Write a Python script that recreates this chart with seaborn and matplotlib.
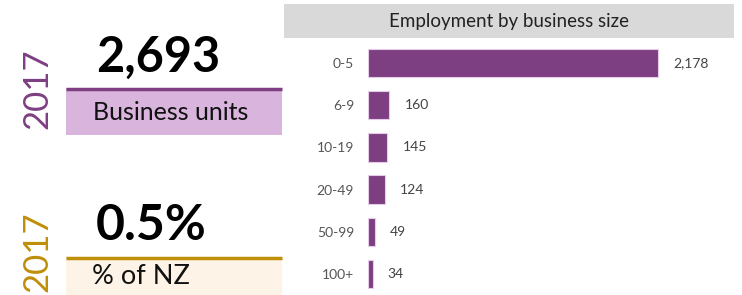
import matplotlib
matplotlib.use("Agg")
import matplotlib.pyplot as plt
import seaborn as sns
import pandas as pd
from matplotlib.patches import Rectangle

# data
sizes = ["0-5", "6-9", "10-19", "20-49", "50-99", "100+"]
employment = [2178, 160, 145, 124, 49, 34]
year = "2017"
business_units = "2,693"
pct_nz = "0.5%"
chart_title = "Employment by business size"

purple = "#7D3F82"
pink = "#D9B4DC"
gold = "#BF8F0A"
cream = "#FDF3E6"

sns.set_theme(style="white")
plt.rcParams["font.family"] = ["Lato", "DejaVu Sans"]

df = pd.DataFrame({"size": sizes, "employment": employment})

fig = plt.figure(figsize=(7.42, 2.95), dpi=100)

# overlay in pixel coordinates for the left panel and header
bg = fig.add_axes([0, 0, 1, 1])
bg.set_xlim(0, 742)
bg.set_ylim(295, 0)
bg.axis("off")

bg.add_patch(Rectangle((284, 4), 450, 34, color="#D9D9D9", lw=0))
bg.text(509, 21, chart_title, ha="center", va="center", fontsize=13.5, color="#222222")

# top block
bg.text(37, 89, year, rotation=90, ha="center", va="center", fontsize=25, color=purple)
bg.text(96, 57, business_units, ha="left", va="center", fontsize=35, fontweight="bold", color="black")
bg.add_patch(Rectangle((66, 88), 216, 47, color=pink, lw=0))
bg.plot([66, 282], [88.5, 88.5], color=purple, lw=2.5, solid_capstyle="butt")
bg.text(93, 112, "Business units", ha="left", va="center", fontsize=18, color="#111111")

# bottom block
bg.text(37, 252, year, rotation=90, ha="center", va="center", fontsize=25, color=gold)
bg.text(96, 225, pct_nz, ha="left", va="center", fontsize=36, fontweight="bold", color="black")
bg.add_patch(Rectangle((66, 257), 216, 38, color=cream, lw=0))
bg.plot([66, 282], [257.5, 257.5], color=gold, lw=2.5, solid_capstyle="butt")
bg.text(92, 277, "% of NZ", ha="left", va="center", fontsize=19.5, color="#111111")

# bar chart
ax = fig.add_axes([368 / 742, 0, (734 - 368) / 742, 253 / 295])
ax.patch.set_alpha(0)
sns.barplot(data=df, x="employment", y="size", orient="h", color=purple,
            saturation=1, width=0.67, edgecolor="#E6CCE8", linewidth=0.8, ax=ax)
ax.set_xlim(0, 2178 * (734 - 368) / 290)
ax.set_ylim(5.5, -0.5)
ax.set_xlabel("")
ax.set_ylabel("")
ax.set_xticks([])
sns.despine(ax=ax, left=True, bottom=True)
ax.tick_params(axis="y", length=0, pad=10, labelsize=10, labelcolor="#555555")

for i, v in enumerate(employment):
    ax.annotate(f"{v:,}", (v, i), xytext=(11, 0), textcoords="offset points",
                ha="left", va="center", fontsize=10, color="#444444")

fig.savefig("out.png", dpi=100)
